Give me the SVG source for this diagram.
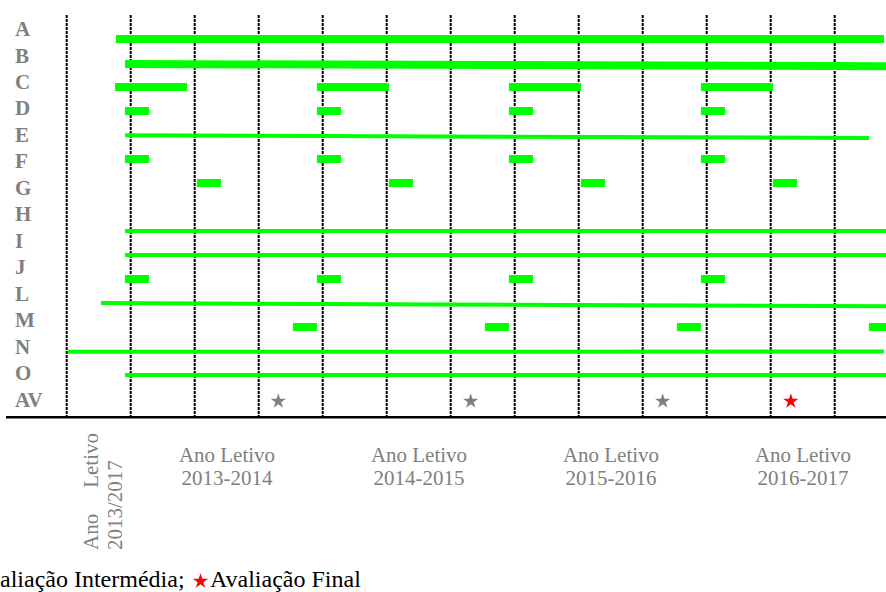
<svg xmlns="http://www.w3.org/2000/svg" xmlns:xlink="http://www.w3.org/1999/xlink" width="886" height="592" viewBox="0 0 886 592">
<style>
.grid{stroke:#000;stroke-width:2;stroke-dasharray:3 1;fill:none}
.bar{fill:#00ff00}
.ln{stroke:#00ff00;stroke-width:4;fill:none}
.lnw{stroke:#00ff00;stroke-width:8;fill:none}
.lab{font-family:"Liberation Serif","Times New Roman",serif;font-weight:bold;font-size:21px;fill:#808080}
.yr{font-family:"Liberation Serif","Times New Roman",serif;font-size:21px;fill:#808080}
.leg{font-family:"Liberation Serif","Times New Roman",serif;font-size:24px;fill:#000000}
</style>
<defs>
<path id="star" d="M0,-8 L1.8,-2.47 L7.61,-2.47 L2.9,0.94 L4.7,6.47 L0,3.06 L-4.7,6.47 L-2.9,0.94 L-7.61,-2.47 L-1.8,-2.47 Z"/>
</defs>
<rect width="886" height="592" fill="#fff"/>
<g id="grid">
<line class="grid" x1="66.7" y1="15" x2="66.7" y2="416"/>
<line class="grid" x1="130.7" y1="15" x2="130.7" y2="416"/>
<line class="grid" x1="194.7" y1="15" x2="194.7" y2="416"/>
<line class="grid" x1="258.7" y1="15" x2="258.7" y2="416"/>
<line class="grid" x1="322.7" y1="15" x2="322.7" y2="416"/>
<line class="grid" x1="386.7" y1="15" x2="386.7" y2="416"/>
<line class="grid" x1="450.7" y1="15" x2="450.7" y2="416"/>
<line class="grid" x1="514.7" y1="15" x2="514.7" y2="416"/>
<line class="grid" x1="578.7" y1="15" x2="578.7" y2="416"/>
<line class="grid" x1="642.7" y1="15" x2="642.7" y2="416"/>
<line class="grid" x1="706.7" y1="15" x2="706.7" y2="416"/>
<line class="grid" x1="770.7" y1="15" x2="770.7" y2="416"/>
<line class="grid" x1="834.7" y1="15" x2="834.7" y2="416"/>
<line x1="6" y1="417.2" x2="886" y2="417.2" stroke="#000" stroke-width="2.4"/>
</g>
<g id="labels">
<text class="lab" x="15" y="36">A</text>
<text class="lab" x="15" y="62.5">B</text>
<text class="lab" x="15" y="89">C</text>
<text class="lab" x="15" y="115.4">D</text>
<text class="lab" x="15" y="141.9">E</text>
<text class="lab" x="15" y="168.4">F</text>
<text class="lab" x="15" y="194.9">G</text>
<text class="lab" x="15" y="221.4">H</text>
<text class="lab" x="15" y="247.8">I</text>
<text class="lab" x="15" y="274.3">J</text>
<text class="lab" x="15" y="300.8">L</text>
<text class="lab" x="15" y="327.3">M</text>
<text class="lab" x="15" y="353.8">N</text>
<text class="lab" x="15" y="380.2">O</text>
<text class="lab" x="15" y="406.7">AV</text>
</g>
<g id="connectors">
<rect id="bar-A" class="bar" x="116" y="35" width="768" height="8"/>
<line id="bar-B" class="lnw" x1="125" y1="64" x2="886" y2="66.2"/>
<g id="bar-C">
<rect class="bar" x="115" y="83" width="72" height="8"/>
<rect class="bar" x="317" y="83" width="72" height="8"/>
<rect class="bar" x="509" y="83" width="72" height="8"/>
<rect class="bar" x="701" y="83" width="72" height="8"/>
</g>
<g id="bar-D">
<rect class="bar" x="125" y="107" width="24" height="8"/>
<rect class="bar" x="317" y="107" width="24" height="8"/>
<rect class="bar" x="509" y="107" width="24" height="8"/>
<rect class="bar" x="701" y="107" width="24" height="8"/>
</g>
<line id="bar-E" class="ln" x1="125" y1="135.2" x2="869" y2="138"/>
<g id="bar-F">
<rect class="bar" x="125" y="155" width="24" height="8"/>
<rect class="bar" x="317" y="155" width="24" height="8"/>
<rect class="bar" x="509" y="155" width="24" height="8"/>
<rect class="bar" x="701" y="155" width="24" height="8"/>
</g>
<g id="bar-G">
<rect class="bar" x="197" y="179" width="24" height="8"/>
<rect class="bar" x="389" y="179" width="24" height="8"/>
<rect class="bar" x="581" y="179" width="24" height="8"/>
<rect class="bar" x="773" y="179" width="24" height="8"/>
</g>
<line id="bar-I" class="ln" x1="125" y1="231" x2="886" y2="231"/>
<line id="bar-J" class="ln" x1="125" y1="255" x2="886" y2="255"/>
<g id="bar-L">
<rect class="bar" x="125" y="275" width="24" height="8"/>
<rect class="bar" x="317" y="275" width="24" height="8"/>
<rect class="bar" x="509" y="275" width="24" height="8"/>
<rect class="bar" x="701" y="275" width="24" height="8"/>
</g>
<line id="bar-M" class="ln" x1="101" y1="303" x2="886" y2="306.3"/>
<g id="bar-N">
<rect class="bar" x="293" y="323" width="24" height="8"/>
<rect class="bar" x="485" y="323" width="24" height="8"/>
<rect class="bar" x="677" y="323" width="24" height="8"/>
<rect class="bar" x="869" y="323" width="24" height="8"/>
</g>
<line id="bar-O" class="ln" x1="68" y1="351.8" x2="884" y2="351.5"/>
<line id="bar-P" class="ln" x1="125" y1="375" x2="886" y2="375"/>
</g>
<g id="stars">
<use xlink:href="#star" href="#star" x="278.3" y="401.3" fill="#808080"/>
<use xlink:href="#star" href="#star" x="470.7" y="401.3" fill="#808080"/>
<use xlink:href="#star" href="#star" x="662.7" y="401.3" fill="#808080"/>
<use xlink:href="#star" href="#star" x="790.8" y="401.3" fill="#ff0000"/>
</g>
<g id="years">
<g transform="translate(98,550) rotate(-90)">
<text class="yr" x="0" y="0">Ano</text>
<text class="yr" x="117" y="0" text-anchor="end">Letivo</text>
</g>
<text class="yr" transform="translate(121.7,550) rotate(-90)" x="0" y="0">2013/2017</text>
<text class="yr" x="227" y="462" text-anchor="middle">Ano Letivo</text>
<text class="yr" x="227" y="485" text-anchor="middle">2013-2014</text>
<text class="yr" x="419" y="462" text-anchor="middle">Ano Letivo</text>
<text class="yr" x="419" y="485" text-anchor="middle">2014-2015</text>
<text class="yr" x="611" y="462" text-anchor="middle">Ano Letivo</text>
<text class="yr" x="611" y="485" text-anchor="middle">2015-2016</text>
<text class="yr" x="803" y="462" text-anchor="middle">Ano Letivo</text>
<text class="yr" x="803" y="485" text-anchor="middle">2016-2017</text>
</g>
<g id="legend">
<text class="leg" font-family="Liberation Serif, serif" x="0" y="587">aliação Intermédia;</text>
<use xlink:href="#star" href="#star" transform="translate(200.5,581.3)" fill="#ff0000"/>
<text class="leg" font-family="Liberation Serif, serif" x="210" y="587">Avaliação Final</text>
</g>
</svg>
